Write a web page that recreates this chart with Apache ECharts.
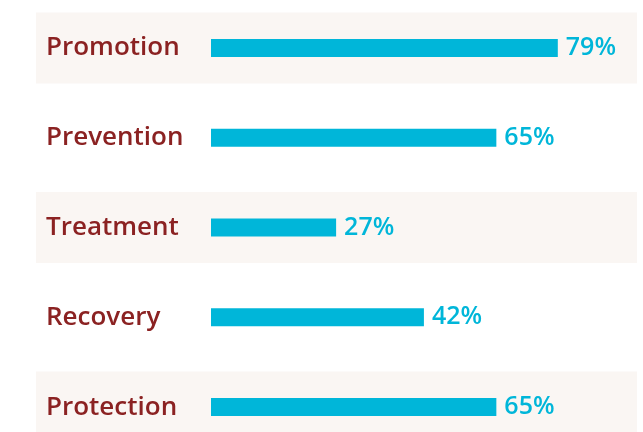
<!DOCTYPE html>
<html>
<head>
<meta charset="utf-8">
<script src="https://cdn.jsdelivr.net/npm/echarts@6/dist/echarts.min.js"></script>
<style>
  html, body { margin: 0; padding: 0; background: #fff; }
  #chart { width: 643px; height: 432px; }
</style>
</head>
<body>
<div id="chart"></div>
<script>
// categories, top to bottom
const categories = ['Promotion', 'Prevention', 'Treatment', 'Recovery', 'Protection'];
// bar lengths as drawn (percent)
const barValues = [79, 65, 28.5, 48.5, 65];
// printed value labels
const valueLabels = ['79%', '65%', '27%', '42%', '65%'];
// shaded rows (1 = shaded)
const bandFlags = [1, 0, 1, 0, 1];

const FONT = '"Open Sans", "Noto Sans", sans-serif';
const RED = '#8b2222';
const CYAN = '#00b6d9';

const chart = echarts.init(document.getElementById('chart'));

// ECharts draws category axes bottom-up, so reverse for top-down order
const cats = categories.slice().reverse();
const bars = barValues.slice().reverse();
const labels = valueLabels.slice().reverse();
const bands = bandFlags.slice().reverse().map(f => (f ? 1 : '-'));

chart.setOption({
  backgroundColor: '#fff',
  textStyle: { fontFamily: FONT },
  animation: false,
  grid: [
    { left: 36, width: 601, top: 3, height: 449, outerBoundsMode: 'none' },
    { left: 211, width: 439, top: 3, height: 449, outerBoundsMode: 'none' },
  ],
  xAxis: [
    { gridIndex: 0, type: 'value', min: 0, max: 1, show: false },
    { gridIndex: 1, type: 'value', min: 0, max: 100, show: false },
  ],
  yAxis: [
    { gridIndex: 0, type: 'category', data: cats, show: false },
    {
      gridIndex: 1,
      type: 'category',
      data: cats,
      axisLine: { show: false },
      axisTick: { show: false },
      splitLine: { show: false },
      axisLabel: {
        align: 'left',
        margin: 165,
        color: RED,
        fontSize: 26,
        fontWeight: 600,
        fontFamily: FONT,
      },
    },
  ],
  series: [
    {
      type: 'bar',
      xAxisIndex: 0,
      yAxisIndex: 0,
      data: bands,
      barWidth: 71,
      itemStyle: { color: '#faf6f3' },
      silent: true,
      z: 0,
    },
    {
      type: 'bar',
      xAxisIndex: 1,
      yAxisIndex: 1,
      data: bars,
      barWidth: 18,
      itemStyle: { color: CYAN },
      label: {
        show: true,
        position: 'right',
        distance: 8,
        color: CYAN,
        fontSize: 25,
        fontWeight: 600,
        fontFamily: FONT,
        formatter: p => labels[p.dataIndex],
      },
      z: 2,
    },
  ],
});
</script>
</body>
</html>
